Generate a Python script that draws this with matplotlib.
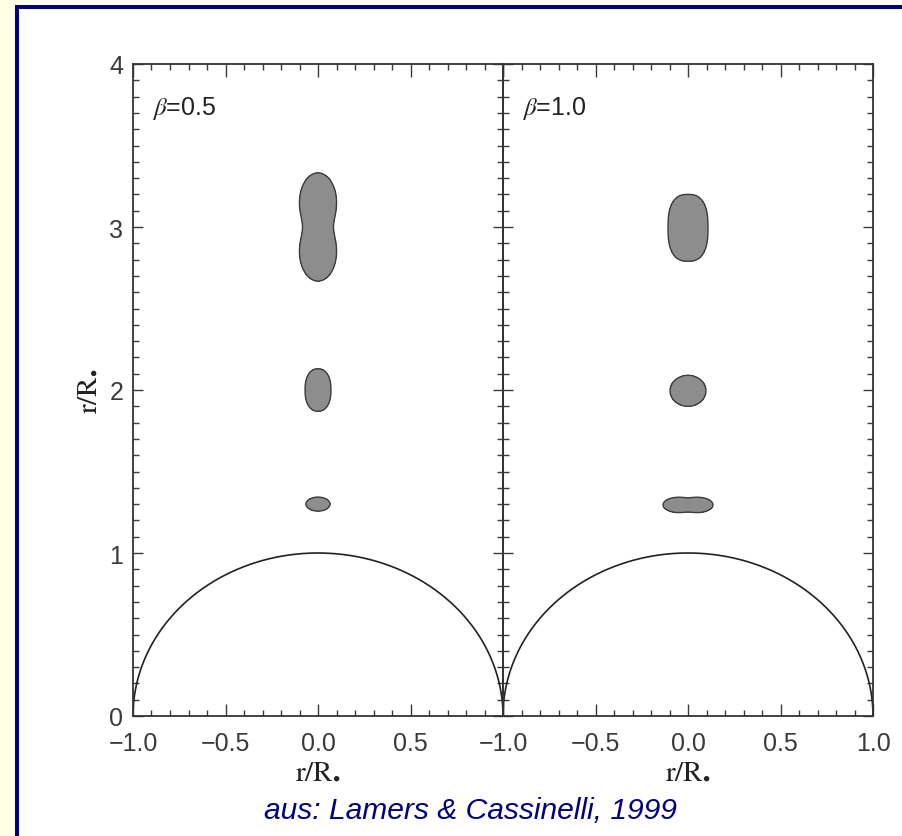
import numpy as np
import matplotlib
matplotlib.use("Agg")
import matplotlib.pyplot as plt
from matplotlib.patches import Rectangle
from matplotlib.ticker import MultipleLocator, FixedLocator, FixedFormatter

plt.rcParams["mathtext.fontset"] = "stix"

# Wind velocity-law parameter of each panel
betas = [0.5, 1.0]
panel_labels = [r"$\beta$=0.5", r"$\beta$=1.0"]

# Shaded regions: each built from superellipse components (centre, half-axes, exponent)
left_cx = [0.0, 0.0, 0.0, 0.0]
left_cy = [3.152, 2.848, 2.00, 1.30]
left_ax = [0.100, 0.100, 0.070, 0.065]
left_ay = [0.180, 0.180, 0.130, 0.043]
left_p = [2.0, 2.0, 2.3, 2.0]

right_cx = [0.0, 0.0, -0.05, 0.05]
right_cy = [2.995, 1.995, 1.295, 1.295]
right_ax = [0.108, 0.097, 0.085, 0.085]
right_ay = [0.205, 0.095, 0.047, 0.047]
right_p = [2.6, 2.0, 2.0, 2.0]

# softness of the union between touching components
union_softness = [0.6, 0.3]

stellar_radius = 1.0

x_major = [-1.0, -0.5, 0.0, 0.5, 1.0]
x_labels_left = ["\u22121.0", "\u22120.5", "0.0", "0.5", ""]
x_labels_right = ["\u22121.0", "\u22120.5", "0.0", "0.5", "1.0"]
y_major = [0, 1, 2, 3, 4]
y_labels = ["0", "1", "2", "3", "4"]

W, H = 902, 837
fig = plt.figure(figsize=(W / 100, H / 100), dpi=100)
fig.patch.set_facecolor("#FFFFE6")

# navy slide frame with white interior
frame = Rectangle((17 / W, -0.1), 1.2, (H - 8) / H + 0.1, transform=fig.transFigure,
                  facecolor="white", edgecolor="#000080", linewidth=2.9, clip_on=False, zorder=-5)
fig.patches.append(frame)

ax_l = 133, 503
ax_top, ax_bot = 65, 717
pw = (ax_l[1] - ax_l[0]) / W
ph = (ax_bot - ax_top) / H
bottom = (H - ax_bot) / H
axes = [fig.add_axes([ax_l[0] / W, bottom, pw, ph]),
        fig.add_axes([ax_l[1] / W, bottom, pw, ph])]

tick_col = "#3a3a3a"


def blob_field(X, Y, cx, cy, a, b, p, k):
    """Smooth union of superellipses; the region field <= 1 is shaded."""
    terms = []
    for xc, yc, ha, hb, pe in zip(cx, cy, a, b, p):
        f = np.abs((X - xc) / ha) ** pe + np.abs((Y - yc) / hb) ** pe
        terms.append(np.exp(-f / k))
    s = np.sum(terms, axis=0)
    return -k * np.log(np.maximum(s, 1e-300))


gx = np.linspace(-0.35, 0.35, 700)
gy = np.linspace(1.0, 3.6, 2000)
GX, GY = np.meshgrid(gx, gy)

blob_sets = [(left_cx, left_cy, left_ax, left_ay, left_p),
             (right_cx, right_cy, right_ax, right_ay, right_p)]

theta = np.linspace(0, np.pi, 600)

for i, ax in enumerate(axes):
    ax.set_zorder(2)
    ax.set_xlim(-1, 1)
    ax.set_ylim(0, 4)
    ax.set_facecolor("none")
    for sp in ax.spines.values():
        sp.set_linewidth(1.3)
        sp.set_color("#333333")

    # stellar surface
    ax.plot(stellar_radius * np.cos(theta), stellar_radius * np.sin(theta),
            color="#222222", lw=1.2)

    G = blob_field(GX, GY, *blob_sets[i], k=union_softness[i])
    ax.contourf(GX, GY, G, levels=[-1e9, 1.0], colors=["#8d8d8d"])
    ax.contour(GX, GY, G, levels=[1.0], colors=["#3c3c3c"], linewidths=1.0)

    ax.text(0.051, 0.934, panel_labels[i], transform=ax.transAxes, ha="left", va="center",
            fontsize=18, family="Liberation Sans", color="#222222")

    ax.xaxis.set_major_locator(FixedLocator(x_major))
    ax.xaxis.set_major_formatter(FixedFormatter(x_labels_left if i == 0 else x_labels_right))
    ax.xaxis.set_minor_locator(MultipleLocator(0.1))
    ax.yaxis.set_major_locator(FixedLocator(y_major))
    ax.yaxis.set_minor_locator(MultipleLocator(0.1))
    if i == 0:
        ax.yaxis.set_major_formatter(FixedFormatter(y_labels))
    else:
        ax.set_yticklabels([])

    ax.tick_params(which="both", direction="in", top=True, right=True, color=tick_col, width=1.0)
    ax.tick_params(which="major", length=9, pad=11, labelsize=18, labelcolor="#3a3a3a")
    ax.tick_params(axis="y", which="major", length=7, pad=7)
    ax.tick_params(which="minor", length=4)
    for lab in ax.get_xticklabels() + ax.get_yticklabels():
        lab.set_family("Liberation Sans")

    ax.set_xlabel(r"$\mathrm{r/R}_{\bullet}$", fontsize=21, color="#222222", labelpad=0)

axes[0].set_ylabel(r"$\mathrm{r/R}_{\bullet}$", fontsize=21, color="#222222", labelpad=6)

fig.text(470 / W, 1 - 811 / H, "aus: Lamers & Cassinelli, 1999", ha="center", va="center",
         fontsize=21.6, style="italic", family="Liberation Sans", color="#000080", zorder=3)

fig.savefig("out.png", dpi=100, facecolor=fig.get_facecolor())
